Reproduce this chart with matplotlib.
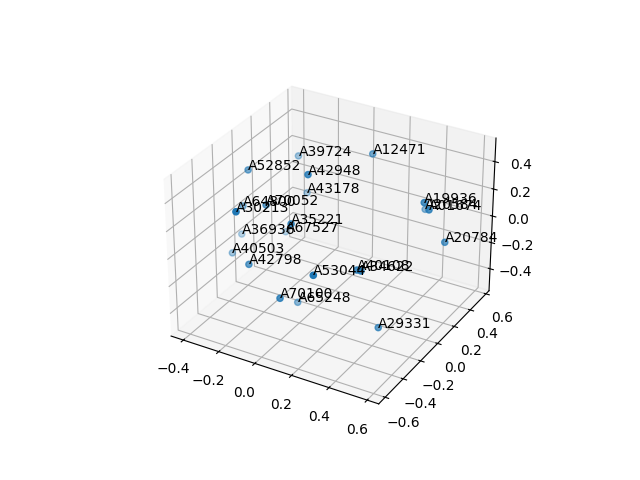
import numpy as np
import matplotlib
matplotlib.use('Agg')
import matplotlib.pyplot as plt

labels = ['A12471', 'A39724', 'A52852', 'A42948', 'A43178', 'A64800', 'A30213', 'A70052',
          'A35221', 'A67527', 'A36936', 'A40503', 'A42798', 'A53044', 'A40108', 'A34622',
          'A70100', 'A65248', 'A29331', 'A19936', 'A20584', 'A01674', 'A20784']
xs = [0.231, -0.147, -0.254, 0.075, -0.088, -0.274, -0.096, -0.101,
      0.059, -0.150, -0.330, -0.303, -0.101, 0.277, 0.373, 0.424,
      0.100, 0.063, 0.490, 0.563, 0.473, 0.590, 0.658]
ys = [0.142, 0.090, -0.233, -0.240, 0.065, -0.257, -0.644, -0.339,
      -0.388, -0.049, -0.177, -0.325, -0.523, -0.586, -0.319, -0.382,
      -0.588, -0.336, -0.323, 0.015, 0.232, 0.011, 0.053]
zs = [0.567, 0.447, 0.480, 0.569, 0.214, 0.227, 0.470, 0.345,
      0.298, -0.033, -0.046, -0.089, 0.025, 0.137, 0.052, 0.104,
      -0.099, -0.301, -0.316, 0.412, 0.209, 0.373, 0.144]

fig = plt.figure()
ax = fig.add_subplot(projection='3d')
ax.scatter(xs, ys, zs)
for i in range(len(labels)):
    ax.text(xs[i], ys[i], zs[i], labels[i])
ax.set_xlim(-0.47, 0.66)
ax.set_ylim(-0.67, 0.64)
ax.set_zlim(-0.57, 0.57)
plt.savefig('out.png')
